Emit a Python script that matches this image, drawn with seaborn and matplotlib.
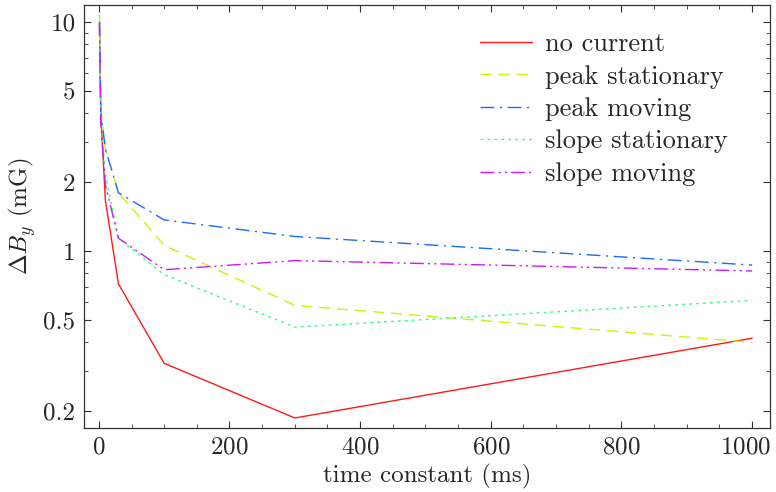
import matplotlib
matplotlib.use("Agg")
import matplotlib.pyplot as plt
import matplotlib.transforms as mtransforms
import seaborn as sns
import pandas as pd
import numpy as np
from matplotlib.ticker import FixedLocator, FixedFormatter, MultipleLocator, NullFormatter

time_constant = [1, 3, 10, 30, 100, 300, 1000]
no_current = [9.5, 4.0, 1.67, 0.72, 0.324, 0.187, 0.417]
peak_stationary = [10.5, 4.2, 2.8, 1.8, 1.06, 0.58, 0.40]
peak_moving = [10.0, 4.0, 2.8, 1.8, 1.37, 1.16, 0.87]
slope_stationary = [10.8, 3.8, 2.15, 1.14, 0.79, 0.466, 0.61]
slope_moving = [10.0, 3.6, 1.95, 1.14, 0.83, 0.91, 0.82]

series_names = ["no current", "peak stationary", "peak moving", "slope stationary", "slope moving"]
series_values = [no_current, peak_stationary, peak_moving, slope_stationary, slope_moving]
y_ticks = [0.2, 0.5, 1, 2, 5, 10]
y_tick_labels = ["0.2", "0.5", "1", "2", "5", "10"]
x_ticks = [0, 200, 400, 600, 800, 1000]

df = pd.DataFrame({
    "t": np.tile(time_constant, len(series_names)),
    "v": np.concatenate(series_values),
    "series": np.repeat(series_names, len(time_constant)),
})

sns.set_style("ticks")
plt.rcParams["font.family"] = ["cmr10"]
plt.rcParams["mathtext.fontset"] = "cm"
plt.rcParams["axes.formatter.use_mathtext"] = True

palette = {
    "no current": "#ff1a1a",
    "peak stationary": "#d4ef00",
    "peak moving": "#1a6bff",
    "slope stationary": "#2cff8c",
    "slope moving": "#c81aff",
}
dashes = {
    "no current": "",
    "peak stationary": (8, 5),
    "peak moving": (10, 4, 1.5, 4),
    "slope stationary": (2, 3),
    "slope moving": (10, 3, 1.5, 3, 1.5, 3),
}

FS = 18
fig = plt.figure(figsize=(7.76, 4.92), dpi=100)
ax = fig.add_axes([0.108, 0.130, 0.884, 0.860])
sns.lineplot(data=df, x="t", y="v", hue="series", style="series",
             palette=palette, dashes=dashes, hue_order=series_names,
             style_order=series_names, linewidth=1.0, ax=ax)

ax.set_yscale("log")
ax.set_xlim(-23, 1027)
ax.set_ylim(0.169, 11.9)
ax.yaxis.set_major_locator(FixedLocator(y_ticks))
ax.yaxis.set_major_formatter(FixedFormatter(y_tick_labels))
minor = [0.3, 0.4, 0.6, 0.7, 0.8, 0.9, 3, 4, 6, 7, 8, 9]
ax.yaxis.set_minor_locator(FixedLocator(minor))
ax.yaxis.set_minor_formatter(NullFormatter())
ax.xaxis.set_major_locator(FixedLocator(x_ticks))
ax.xaxis.set_minor_locator(MultipleLocator(50))

ax.tick_params(which="both", direction="in", top=True, right=True, labelsize=FS, color="#333333")
ax.tick_params(which="major", length=5, width=0.8, pad=6)
ax.tick_params(which="minor", length=3, width=0.6)
for s in ax.spines.values():
    s.set_linewidth(0.9)
    s.set_color("#333333")

ax.set_xlabel("time constant (ms)", fontsize=FS, labelpad=4)
ax.set_ylabel(r"$\Delta B_y$ (mG)", fontsize=FS, labelpad=4)

leg = ax.legend(loc="upper right", frameon=False, fontsize=19, handlelength=1.97,
                handletextpad=0.49, borderaxespad=0.0, labelspacing=0.33,
                bbox_to_anchor=(0.954, 0.96))

fig.canvas.draw()
last_label = ax.get_xticklabels()[-1]
last_label.set_transform(last_label.get_transform() +
                         mtransforms.ScaledTranslation(-7 / 100, 0, fig.dpi_scale_trans))

fig.savefig("out.png", dpi=100)
